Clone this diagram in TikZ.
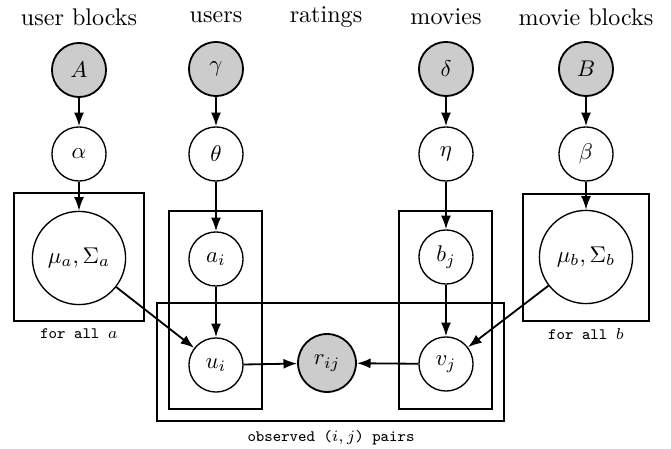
\documentclass[tikz,border=0pt]{standalone}
\usetikzlibrary{arrows.meta}
\begin{document}
\begin{tikzpicture}[x=0.44pt,y=-0.44pt,
  latent/.style={circle,draw,semithick,fill=white,minimum size=23.8pt,inner sep=0pt},
  big/.style={latent,minimum size=41pt},
  observed/.style={circle,draw,thick,fill=black!20,minimum size=23.8pt,inner sep=0pt},
  rating/.style={observed,minimum size=25.5pt},
  plate/.style={draw,thick,rectangle,inner sep=0pt},
  header/.style={inner sep=0pt,font=\fontsize{10.6}{13}\selectfont},
  platelabel/.style={inner sep=0pt,font=\scriptsize\ttfamily},
  edge/.style={thick,-{Latex[length=6pt,width=4.4pt]}}]
\useasboundingbox (0,0) rectangle (671,449);

% plates
\node[plate,minimum width=57.2pt,minimum height=56.3pt] (plateA) at (79,257) {};
\node[plate,minimum width=40.9pt,minimum height=87.1pt] (plateU) at (215.5,310) {};
\node[plate,minimum width=152.7pt,minimum height=51.9pt] (plateR) at (330.5,362) {};
\node[plate,minimum width=40.9pt,minimum height=87.1pt] (plateV) at (445.5,310) {};
\node[plate,minimum width=55.4pt,minimum height=55.9pt] (plateB) at (586,257.5) {};

% plate labels
\node[platelabel] (labA) at (79,334) {for all $a$};
\node[platelabel] (labB) at (586,334) {for all $b$};
\node[platelabel] (labR) at (331,438) {observed ($i,j$) pairs};

% column headers
\node[header] (hA) at (79,17) {user blocks};
\node[header] (hU) at (216,17) {users};
\node[header] (hR) at (326,17) {ratings};
\node[header] (hV) at (446,17) {movies};
\node[header] (hB) at (586,17) {movie blocks};

% hyperparameters
\node[observed] (A) at (79,70) {$A$};
\node[observed] (gamma) at (216,69) {$\gamma$};
\node[observed] (delta) at (446,69) {$\delta$};
\node[observed] (B) at (586,69) {$B$};

\node[latent] (alpha) at (79,154) {$\alpha$};
\node[latent] (theta) at (216,154) {$\theta$};
\node[latent] (eta) at (446,154) {$\eta$};
\node[latent] (beta) at (586,154) {$\beta$};

% block, user and movie parameters
\node[big] (muA) at (79,258) {$\mu_a,\Sigma_a$};
\node[latent] (a) at (216,259) {$a_i$};
\node[latent] (b) at (446,257) {$b_j$};
\node[big] (muB) at (586,257) {$\mu_b,\Sigma_b$};

\node[latent] (u) at (216,365) {$u_i$};
\node[rating] (r) at (327,363) {$r_{ij}$};
\node[latent] (v) at (446,364) {$v_j$};

% dependencies
\draw[edge] (A) -- (alpha);
\draw[edge] (alpha) -- (muA);
\draw[edge] (gamma) -- (theta);
\draw[edge] (theta) -- (a);
\draw[edge] (a) -- (u);
\draw[edge] (muA) -- (u);
\draw[edge] (delta) -- (eta);
\draw[edge] (eta) -- (b);
\draw[edge] (b) -- (v);
\draw[edge] (muB) -- (v);
\draw[edge] (B) -- (beta);
\draw[edge] (beta) -- (muB);
\draw[edge] (u) -- (r);
\draw[edge] (v) -- (r);
\end{tikzpicture}
\end{document}
